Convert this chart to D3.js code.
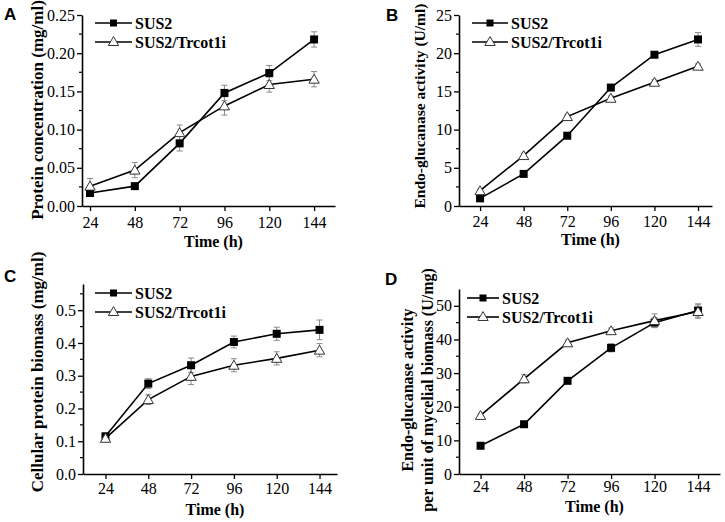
<!DOCTYPE html>
<html>
<head>
<meta charset="utf-8">
<script src="https://cdn.jsdelivr.net/npm/d3@7"></script>
<style>
  body { margin: 0; background: #fff; }
  svg { display: block; }
</style>
</head>
<body>
<svg id="fig" width="725" height="522"></svg>
<script>
// time points shared by all panels
var hours = [24, 48, 72, 96, 120, 144];
var seriesNames = ["SUS2", "SUS2/Trcot1i"];

// A - protein concentration (mg/ml)
var protSUS2 = [0.017, 0.026, 0.082, 0.148, 0.174, 0.218];
var protSUS2Err = [0.003, 0.003, 0.01, 0.01, 0.01, 0.01];
var protTrc = [0.026, 0.047, 0.096, 0.131, 0.159, 0.166];
var protTrcErr = [0.01, 0.01, 0.01, 0.012, 0.01, 0.01];

// B - endo-glucanase activity (U/ml)
var endoSUS2 = [1.0, 4.2, 9.2, 15.5, 19.8, 21.8];
var endoSUS2Err = [0.2, 0.3, 0.3, 0.3, 0.3, 0.9];
var endoTrc = [2.0, 6.6, 11.7, 14.1, 16.2, 18.3];
var endoTrcErr = [0.2, 0.3, 0.3, 0.3, 0.3, 0.3];

// C - cellular protein biomass (mg/ml)
var bioSUS2 = [0.115, 0.276, 0.332, 0.403, 0.428, 0.44];
var bioSUS2Err = [0.01, 0.015, 0.022, 0.018, 0.02, 0.03];
var bioTrc = [0.109, 0.227, 0.298, 0.332, 0.353, 0.378];
var bioTrcErr = [0.01, 0.015, 0.025, 0.02, 0.02, 0.02];

// D - specific activity (U/mg)
var specSUS2 = [8.4, 14.8, 27.7, 37.5, 45.0, 48.6];
var specSUS2Err = [0.5, 0.8, 0.8, 1.2, 1.5, 2.0];
var specTrc = [17.4, 28.3, 39.0, 42.6, 45.6, 48.3];
var specTrcErr = [0.6, 1.2, 0.8, 0.8, 2.0, 2.0];

var panels = [
  { tag: "A", left: 82, right: 335, top: 15, bottom: 206, xd: [19.7, 155.2], yd: [0, 0.25], step: 0.05, fmt: ".2f",
    title: ["Protein concentration (mg/ml)"], titleX: [37], titleY: 110, titleSize: 17,
    s1: protSUS2, e1: protSUS2Err, s2: protTrc, e2: protTrcErr,
    leg: { x1: 95, x2: 132, y: 23 }, timeY: 247, tickY: 228, tagX: 4, tagY: 20 },
  { tag: "B", left: 459, right: 712, top: 15, bottom: 206, xd: [12.4, 151.7], yd: [0, 25], step: 5, fmt: "d",
    title: ["Endo-glucanase activity (U/ml)"], titleX: [420], titleY: 106, titleSize: 15.5,
    s1: endoSUS2, e1: endoSUS2Err, s2: endoTrc, e2: endoTrcErr,
    leg: { x1: 472, x2: 508, y: 23 }, timeY: 245, tickY: 227, tagX: 386, tagY: 21 },
  { tag: "C", left: 83, right: 337, top: 284, bottom: 474, xd: [11.4, 153.8], yd: [0, 0.58], step: 0.1, fmt: ".1f",
    title: ["Cellular protein biomass (mg/ml)"], titleX: [37], titleY: 372, titleSize: 17,
    s1: bioSUS2, e1: bioSUS2Err, s2: bioTrc, e2: bioTrcErr,
    leg: { x1: 95, x2: 132, y: 293 }, timeY: 515, tickY: 494, tagX: 4, tagY: 282 },
  { tag: "D", left: 459, right: 720, top: 289, bottom: 474, xd: [12.1, 156.1], yd: [0, 55], step: 10, fmt: "d",
    title: ["Endo-glucanase activity", "per unit of mycelial biomass (U/mg)"], titleX: [407, 427], titleY: 390, titleSize: 16,
    s1: specSUS2, e1: specSUS2Err, s2: specTrc, e2: specTrcErr,
    leg: { x1: 467, x2: 499, y: 298 }, timeY: 512, tickY: 492, tagX: 385, tagY: 285 }
];

var svg = d3.select("#fig");
var serif = "'Liberation Serif', 'Times New Roman', serif";
var tri = d3.symbol().type(d3.symbolTriangle).size(46);

function drawPanel(p) {
  var g = svg.append("g");
  var x = d3.scaleLinear().domain(p.xd).range([p.left, p.right]);
  var y = d3.scaleLinear().domain(p.yd).range([p.bottom, p.top]);

  // y axis with minor ticks between majors
  var majors = d3.range(p.yd[0], p.yd[1] + p.step / 100, p.step);
  var minors = d3.range(p.yd[0] + p.step / 2, p.yd[1], p.step);
  var yAx = g.append("g").attr("transform", "translate(" + p.left + ",0)")
    .call(d3.axisLeft(y).tickValues(majors).tickFormat(d3.format(p.fmt)).tickSize(5).tickSizeOuter(0));
  yAx.selectAll(".domain").attr("stroke-width", 1.6);
  yAx.selectAll(".tick line").attr("stroke-width", 1.3);
  yAx.selectAll("text").style("font-family", serif).style("font-size", "16px").attr("x", -7);
  g.selectAll(".minor").data(minors).enter().append("line")
    .attr("x1", p.left - 3).attr("x2", p.left)
    .attr("y1", function (d) { return y(d); }).attr("y2", function (d) { return y(d); })
    .attr("stroke", "#000").attr("stroke-width", 1.2);

  var xAx = g.append("g").attr("transform", "translate(0," + p.bottom + ")")
    .call(d3.axisBottom(x).tickValues(hours).tickSize(5).tickSizeOuter(0));
  xAx.selectAll(".domain").attr("stroke-width", 1.6);
  xAx.selectAll(".tick line").attr("stroke-width", 1.3);
  xAx.selectAll("text").style("font-family", serif).style("font-size", "16px")
    .attr("y", p.tickY - p.bottom).attr("dy", 0);

  g.append("text").attr("x", (p.left + p.right) / 2 + 5).attr("y", p.timeY)
    .attr("text-anchor", "middle").style("font-family", serif).style("font-weight", "bold")
    .style("font-size", "16px").text("Time (h)");

  p.title.forEach(function (t, i) {
    g.append("text").attr("transform", "translate(" + p.titleX[i] + "," + p.titleY + ") rotate(-90)")
      .attr("text-anchor", "middle").attr("dy", "0.35em")
      .style("font-family", serif).style("font-weight", "bold").style("font-size", p.titleSize + "px").text(t);
  });

  g.append("text").attr("x", p.tagX).attr("y", p.tagY)
    .style("font-family", "'Liberation Sans', Arial, sans-serif").style("font-weight", "bold")
    .style("font-size", "17px").text(p.tag);

  var line = d3.line().x(function (d) { return x(d[0]); }).y(function (d) { return y(d[1]); });
  [[p.s1, p.e1], [p.s2, p.e2]].forEach(function (s) {
    var pts = hours.map(function (h, i) { return [h, s[0][i], s[1][i]]; });
    var eb = g.append("g").attr("stroke", "#8a8a8a").attr("stroke-width", 1);
    pts.forEach(function (d) {
      var cx = x(d[0]), yt = y(d[1] + d[2]), yb = y(d[1] - d[2]);
      eb.append("line").attr("x1", cx).attr("x2", cx).attr("y1", yt).attr("y2", yb);
      eb.append("line").attr("x1", cx - 3).attr("x2", cx + 3).attr("y1", yt).attr("y2", yt);
      eb.append("line").attr("x1", cx - 3).attr("x2", cx + 3).attr("y1", yb).attr("y2", yb);
    });
  });
  [p.s1, p.s2].forEach(function (s) {
    g.append("path").datum(hours.map(function (h, i) { return [h, s[i]]; }))
      .attr("d", line).attr("fill", "none").attr("stroke", "#000").attr("stroke-width", 1.6);
  });
  g.selectAll(".sq").data(p.s1).enter().append("rect")
    .attr("x", function (d, i) { return x(hours[i]) - 4; })
    .attr("y", function (d) { return y(d) - 4; })
    .attr("width", 8).attr("height", 8).attr("fill", "#000");
  g.selectAll(".tr").data(p.s2).enter().append("path")
    .attr("d", tri)
    .attr("transform", function (d, i) { return "translate(" + x(hours[i]) + "," + (y(d) + 1) + ")"; })
    .attr("fill", "#fff").attr("stroke", "#333").attr("stroke-width", 1);

  // legend
  var L = p.leg;
  [0, 1].forEach(function (k) {
    var ly = L.y + k * 19, mx = (L.x1 + L.x2) / 2;
    g.append("line").attr("x1", L.x1).attr("x2", L.x2).attr("y1", ly).attr("y2", ly)
      .attr("stroke", "#000").attr("stroke-width", 1.6);
    if (k === 0) {
      g.append("rect").attr("x", mx - 3.5).attr("y", ly - 3.5).attr("width", 7).attr("height", 7).attr("fill", "#000");
    } else {
      g.append("path").attr("d", tri).attr("transform", "translate(" + mx + "," + (ly + 0.5) + ")")
        .attr("fill", "#fff").attr("stroke", "#333");
    }
    g.append("text").attr("x", L.x2 + 3).attr("y", ly).attr("dy", "0.35em")
      .style("font-family", serif).style("font-weight", "bold").style("font-size", "16px")
      .text(seriesNames[k]);
  });
}

panels.forEach(drawPanel);
</script>
</body>
</html>
